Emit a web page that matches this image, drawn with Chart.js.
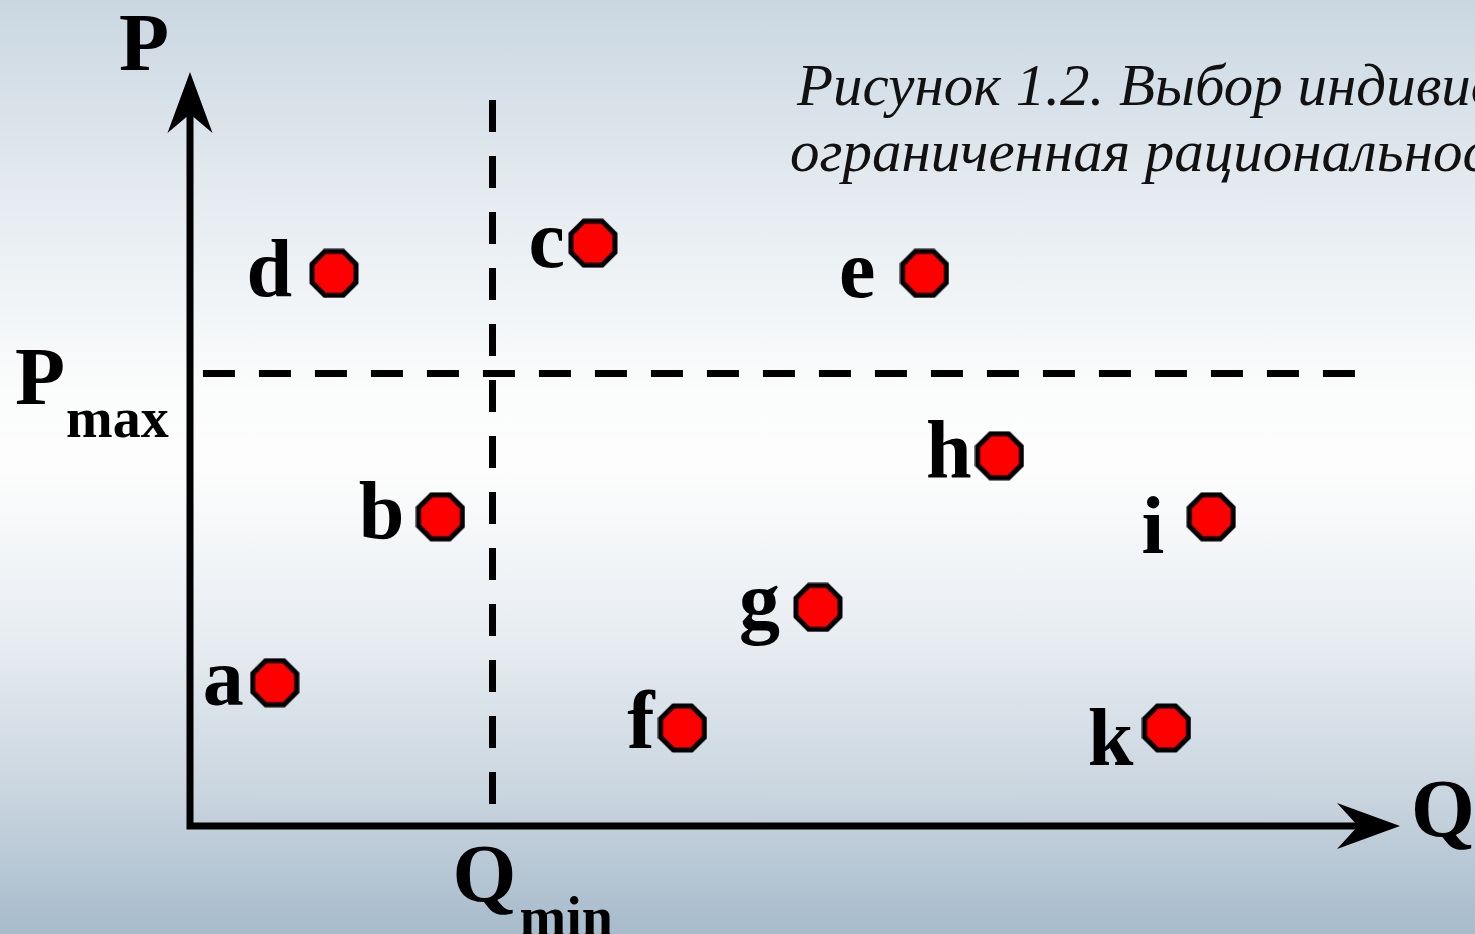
<!DOCTYPE html>
<html>
<head>
<meta charset="utf-8">
<script src="https://cdn.jsdelivr.net/npm/chart.js@4"></script>
<style>
    html, body {
        margin: 0;
        padding: 0;
        overflow: hidden;
    }
    body {
        width: 1475px;
        height: 934px;
        background: linear-gradient(to bottom, #cad7e1 0%, #e6ecf1 22%, #fbfcfc 42%, #fdfdfd 50%, #e8edf2 68%, #c9d5df 85%, #a7bbcb 100%);
    }
    canvas {
        display: block;
    }
</style>
</head>
<body>
<canvas id="myChart" width="1475" height="934"></canvas>
<script>
    // points on the diagram
    const names = ["a", "b", "c", "d", "e", "f", "g", "h", "i", "k"];
    const qValues = [7, 20.7, 33.3, 11.9, 60.7, 40.7, 51.9, 66.9, 84.4, 80.7];
    const pValues = [19, 41, 77.3, 73.3, 73.3, 13, 29, 49.1, 41, 13];

    // limits shown by dashed lines
    const qMin = 25;
    const pMax = 60;
    const axisMax = 100;

    const titleLines = ["Рисунок 1.2. Выбор индивидом альтернативы:", "ограниченная рациональность"];

    // label placement next to each marker (px: right edge dx, baseline dy)
    const labelDx = [-31, -36, -28, -42, -49, -28, -38, -28, -47, -33];
    const labelDy = [22, 21, 24, 23, 24, 20, 21, 21, 36, 37];

    function octagon(size) {
        const c = document.createElement("canvas");
        c.width = size;
        c.height = size;
        const g = c.getContext("2d");
        const r = size / 2 - 3;
        const R = r / Math.cos(Math.PI / 8);
        g.beginPath();
        for (let i = 0; i < 8; i++) {
            let a = Math.PI / 8 + i * Math.PI / 4;
            let px = size / 2 + R * Math.cos(a);
            let py = size / 2 + R * Math.sin(a);
            if (i === 0)
                g.moveTo(px, py);
            else
                g.lineTo(px, py);
        }
        g.closePath();
        g.fillStyle = "#ff0000";
        g.fill();
        g.lineWidth = 5;
        g.strokeStyle = "#000";
        g.stroke();
        return c;
    }

    const serifBold = "bold 82px 'Liberation Serif', 'Times New Roman', serif";
    const serifSub = "bold 56px 'Liberation Serif', 'Times New Roman', serif";

    const diagramPlugin = {
        id: "diagram",
        beforeDatasetsDraw(chart) {
            const ctx = chart.ctx;
            const x = chart.scales.x;
            const y = chart.scales.y;
            const x0 = x.getPixelForValue(0);
            const y0 = y.getPixelForValue(0);
            const xEnd = x.getPixelForValue(axisMax);
            const yEnd = y.getPixelForValue(axisMax);

            ctx.save();
            ctx.strokeStyle = "#000";
            ctx.fillStyle = "#000";
            ctx.lineWidth = 7;
            ctx.lineCap = "butt";
            ctx.lineJoin = "miter";

            // axes
            ctx.beginPath();
            ctx.moveTo(x0, yEnd + 40);
            ctx.lineTo(x0, y0);
            ctx.lineTo(xEnd - 40, y0);
            ctx.stroke();

            // arrow heads
            ctx.beginPath();
            ctx.moveTo(x0, yEnd);
            ctx.lineTo(x0 - 22.5, yEnd + 61);
            ctx.lineTo(x0, yEnd + 42);
            ctx.lineTo(x0 + 22.5, yEnd + 61);
            ctx.closePath();
            ctx.fill();

            ctx.beginPath();
            ctx.moveTo(xEnd, y0);
            ctx.lineTo(xEnd - 63, y0 - 23);
            ctx.lineTo(xEnd - 42, y0);
            ctx.lineTo(xEnd - 63, y0 + 23);
            ctx.closePath();
            ctx.fill();
            ctx.restore();
        },
        afterDatasetsDraw(chart) {
            const ctx = chart.ctx;
            const x = chart.scales.x;
            const y = chart.scales.y;
            ctx.save();
            ctx.fillStyle = "#000";
            ctx.textBaseline = "alphabetic";

            // point names
            ctx.font = serifBold;
            ctx.textAlign = "right";
            for (let i = 0; i < names.length; i++) {
                let px = x.getPixelForValue(qValues[i]);
                let py = y.getPixelForValue(pValues[i]);
                ctx.fillText(names[i], px + labelDx[i], py + labelDy[i]);
            }

            // axis names
            ctx.textAlign = "left";
            ctx.fillText("P", 119, 70);
            ctx.fillText("Q", 1411, 836);

            let pmY = y.getPixelForValue(pMax);
            ctx.fillText("P", 15, pmY + 30);
            ctx.font = serifSub;
            ctx.fillText("max", 66, pmY + 63);

            let qmX = x.getPixelForValue(qMin);
            ctx.font = serifBold;
            ctx.fillText("Q", qmX - 40, 901);
            ctx.font = serifSub;
            ctx.fillText("min", qmX + 27, 936);

            // caption
            ctx.font = "italic 59px 'Liberation Serif', 'Times New Roman', serif";
            ctx.fillStyle = "#111";
            ctx.fillText(titleLines[0], 797, 105);
            ctx.fillText(titleLines[1], 790, 171);
            ctx.restore();
        }
    };

    function drawDiagram(canvasId = "myChart") {
        const ctx = document.getElementById(canvasId);
        const marker = octagon(50);

        let points = [];
        for (let i = 0; i < names.length; i++)
            points.push({x: qValues[i], y: pValues[i]});

        new Chart(ctx, {
            type: "scatter",
            data: {
                datasets: [{
                        label: "Pmax",
                        type: "line",
                        data: [{x: 1.07, y: pMax}, {x: 96.3, y: pMax}],
                        borderColor: "#000",
                        borderWidth: 7,
                        borderDash: [32, 24],
                        pointRadius: 0,
                        fill: false
                    }, {
                        label: "Qmin",
                        type: "line",
                        data: [{x: qMin, y: 96.3}, {x: qMin, y: 2.8}],
                        borderColor: "#000",
                        borderWidth: 7,
                        borderDash: [32, 24],
                        pointRadius: 0,
                        fill: false
                    }, {
                        label: "варианты",
                        data: points,
                        pointStyle: marker,
                        pointRadius: 25,
                        pointHoverRadius: 25
                    }]
            },
            options: {
                responsive: false,
                animation: false,
                events: [],
                layout: {
                    padding: {left: 190, right: 75, top: 72, bottom: 108}
                },
                plugins: {
                    legend: {display: false},
                    tooltip: {enabled: false}
                },
                scales: {
                    x: {type: "linear", min: 0, max: axisMax, display: false},
                    y: {type: "linear", min: 0, max: axisMax, display: false}
                }
            },
            plugins: [diagramPlugin]
        });
    }

    drawDiagram();
</script>
</body>
</html>
